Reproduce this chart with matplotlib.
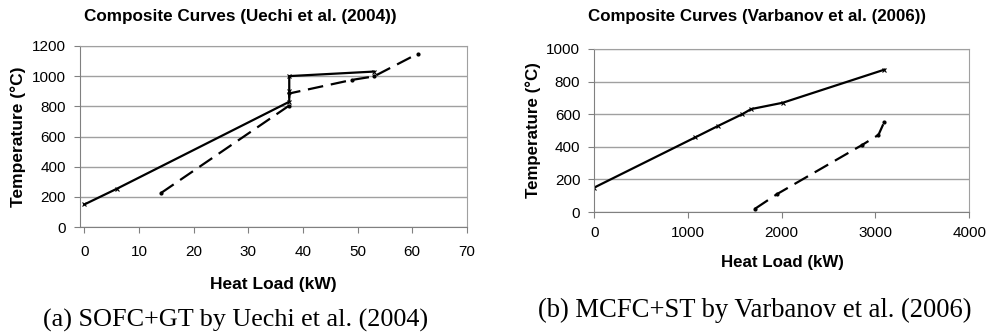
import numpy as np
import matplotlib
matplotlib.use("Agg")
import matplotlib.pyplot as plt

# datos
# (a) Uechi et al. (2004)
a_hot_x = [0, 6, 37.5, 37.5, 37.5, 53]
a_hot_y = [150, 255, 830, 900, 1000, 1030]
a_cold_x = [14, 37.5, 37.5, 49, 53, 61]
a_cold_y = [225, 805, 885, 975, 998, 1148]
a_xticks = [0, 10, 20, 30, 40, 50, 60, 70]
a_yticks = [0, 200, 400, 600, 800, 1000, 1200]

# (b) Varbanov et al. (2006)
b_hot_x = [0, 1075, 1325, 1580, 1673, 2011, 3096]
b_hot_y = [150, 457, 529, 600, 631, 670, 873]
b_cold_x = [1715, 1950, 2854, 3032, 3096]
b_cold_y = [20, 110, 410, 473, 555]
b_xticks = [0, 1000, 2000, 3000, 4000]
b_yticks = [0, 200, 400, 600, 800, 1000]

plt.rcParams['font.family'] = ['Liberation Sans', 'DejaVu Sans']

fig = plt.figure(figsize=(9.87, 3.35), dpi=100)
ax1 = fig.add_axes([0.081, 0.322, 0.392, 0.541])
ax2 = fig.add_axes([0.602, 0.367, 0.380, 0.487])


def estilo(ax, xticks, yticks, xlim, ylim, fs):
    ax.set_xlim(xlim)
    ax.set_ylim(ylim)
    ax.set_xticks(xticks)
    ax.set_yticks(yticks)
    ax.yaxis.grid(True, color='#a0a0a0', lw=1)
    ax.set_axisbelow(True)
    for s in ['top', 'right']:
        ax.spines[s].set_color('#a0a0a0')
    for s in ['left', 'bottom']:
        ax.spines[s].set_color('#808080')
    ax.tick_params(direction='out', length=4, color='#808080', labelsize=fs, pad=6)


ax1.plot(a_hot_x, a_hot_y, 'k-', lw=1.6, marker='x', ms=3, mew=0.8)
ax1.plot(a_cold_x, a_cold_y, 'k-', lw=1.6, dashes=(7, 3.5), marker='.', ms=4)
estilo(ax1, a_xticks, a_yticks, (-0.8, 70), (0, 1200), 11)
ax1.tick_params(axis='x', pad=9)

ax2.plot(b_hot_x, b_hot_y, 'k-', lw=1.6, marker='x', ms=3, mew=0.8)
ax2.plot(b_cold_x, b_cold_y, 'k-', lw=1.6, dashes=(7, 3.5), marker='.', ms=4)
estilo(ax2, b_xticks, b_yticks, (0, 4000), (0, 1000), 11)

#textos
fig.text(240/987, 1-17/335, 'Composite Curves (Uechi et al. (2004))', ha='center', va='center',
         fontsize=12.3, fontweight='bold')
fig.text(757/987, 1-17/335, 'Composite Curves (Varbanov et al. (2006))', ha='center', va='center',
         fontsize=12.2, fontweight='bold')
fig.text(273/987, 1-284/335, 'Heat Load (kW)', ha='center', va='center', fontsize=12.5, fontweight='bold')
fig.text(782/987, 1-263/335, 'Heat Load (kW)', ha='center', va='center', fontsize=12.2, fontweight='bold')
fig.text(18/987, 1-137/335, 'Temperature (°C)', ha='center', va='center', rotation=90,
         fontsize=12.5, fontweight='bold')
fig.text(533/987, 1-130/335, 'Temperature (°C)', ha='center', va='center', rotation=90,
         fontsize=12.2, fontweight='bold')
fig.text(236/987, 1-320/335, '(a) SOFC+GT by Uechi et al. (2004)', ha='center', va='center',
         fontsize=18.8, family='Liberation Serif')
fig.text(755/987, 1-310/335, '(b) MCFC+ST by Varbanov et al. (2006)', ha='center', va='center',
         fontsize=19.2, family='Liberation Serif')

fig.savefig('out.png', dpi=100)
